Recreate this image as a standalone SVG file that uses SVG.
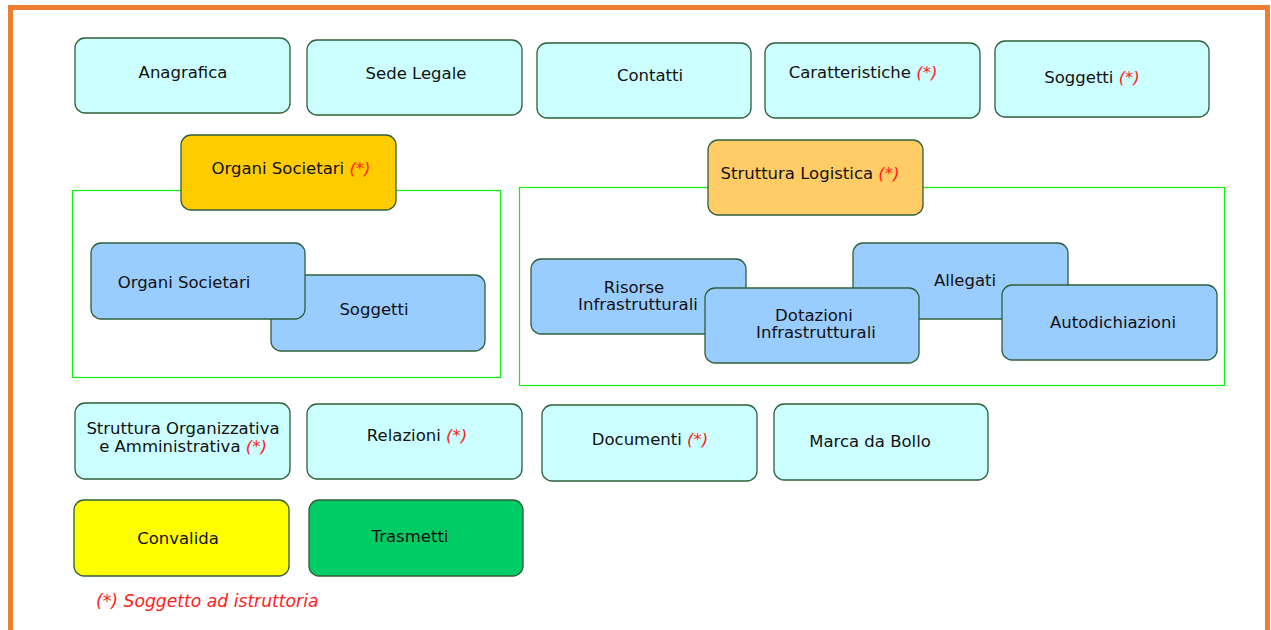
<svg xmlns="http://www.w3.org/2000/svg" width="1271" height="630" viewBox="0 0 1271 630">
<style>
.b{stroke:#2f5f3a;stroke-width:1.3}
.c{fill:#ccffff}
.u{fill:#99ccff}
.g{fill:none;stroke:#11ee11;stroke-width:1.2}
text{font-family:"DejaVu Sans","Liberation Sans",sans-serif;font-size:16.5px;fill:#111;text-anchor:middle}
.r{fill:#ff2020;font-style:italic}
.leg{fill:#ff2020;font-style:italic;font-size:17.2px;text-anchor:start}
</style>
<rect x="0" y="0" width="1271" height="630" fill="#ffffff"/>
<rect x="10.5" y="7.5" width="1257" height="640" fill="none" stroke="#ed7d31" stroke-width="5"/>
<g id="connectors"></g>
<g id="anagrafica"><rect class="b c" x="75" y="38" width="215" height="75" rx="10"/><text x="183" y="78">Anagrafica</text></g>
<g id="sede-legale"><rect class="b c" x="307" y="40" width="215" height="75" rx="10"/><text x="416" y="79">Sede Legale</text></g>
<g id="contatti"><rect class="b c" x="537" y="43" width="214" height="75" rx="10"/><text x="650" y="81">Contatti</text></g>
<g id="caratteristiche"><rect class="b c" x="765" y="43" width="215" height="75" rx="10"/><text x="863" y="78">Caratteristiche <tspan class="r">(*)</tspan></text></g>
<g id="soggetti-top"><rect class="b c" x="995" y="41" width="214" height="76" rx="10"/><text x="1092" y="83">Soggetti <tspan class="r">(*)</tspan></text></g>

<g id="group-organi"><rect class="g" x="72.5" y="190.5" width="428" height="187"/></g>
<g id="organi-societari-head"><rect class="b" fill="#ffcc00" x="181" y="135" width="215" height="75" rx="10"/><text x="291" y="174">Organi Societari <tspan class="r">(*)</tspan></text></g>
<g id="soggetti-inner"><rect class="b u" x="271" y="275" width="214" height="76" rx="10"/><text x="374" y="315">Soggetti</text></g>
<g id="organi-societari-inner"><rect class="b u" x="91" y="243" width="214" height="76" rx="10"/><text x="184" y="288">Organi Societari</text></g>

<g id="group-logistica"><rect class="g" x="519.5" y="187.5" width="705" height="198"/></g>
<g id="struttura-logistica"><rect class="b" fill="#ffcc66" x="708" y="140" width="215" height="75" rx="10"/><text x="810" y="179">Struttura Logistica <tspan class="r">(*)</tspan></text></g>
<g id="risorse"><rect class="b u" x="531" y="259" width="215" height="75" rx="10"/><text x="634" y="293">Risorse</text><text x="638" y="310">Infrastrutturali</text></g>
<g id="allegati"><rect class="b u" x="853" y="243" width="215" height="76" rx="10"/><text x="965" y="286">Allegati</text></g>
<g id="dotazioni"><rect class="b u" x="705" y="288" width="214" height="75" rx="10"/><text x="814" y="321">Dotazioni</text><text x="816" y="338">Infrastrutturali</text></g>
<g id="autodichiazioni"><rect class="b u" x="1002" y="285" width="215" height="75" rx="10"/><text x="1113" y="328">Autodichiazioni</text></g>

<g id="struttura-organizzativa"><rect class="b c" x="75" y="403" width="215" height="76" rx="10"/><text x="183" y="434">Struttura Organizzativa</text><text x="183" y="452">e Amministrativa <tspan class="r">(*)</tspan></text></g>
<g id="relazioni"><rect class="b c" x="307" y="404" width="215" height="75" rx="10"/><text x="417" y="441">Relazioni <tspan class="r">(*)</tspan></text></g>
<g id="documenti"><rect class="b c" x="542" y="405" width="215" height="76" rx="10"/><text x="650" y="445">Documenti <tspan class="r">(*)</tspan></text></g>
<g id="marca-da-bollo"><rect class="b c" x="774" y="404" width="214" height="76" rx="10"/><text x="870" y="447">Marca da Bollo</text></g>

<g id="convalida"><rect class="b" fill="#ffff00" x="74" y="500" width="215" height="76" rx="10"/><text x="178" y="544">Convalida</text></g>
<g id="trasmetti"><rect class="b" fill="#00cc66" x="309" y="500" width="214" height="76" rx="10"/><text x="410" y="542">Trasmetti</text></g>

<text class="leg" x="96" y="607">(*) Soggetto ad istruttoria</text>
</svg>
